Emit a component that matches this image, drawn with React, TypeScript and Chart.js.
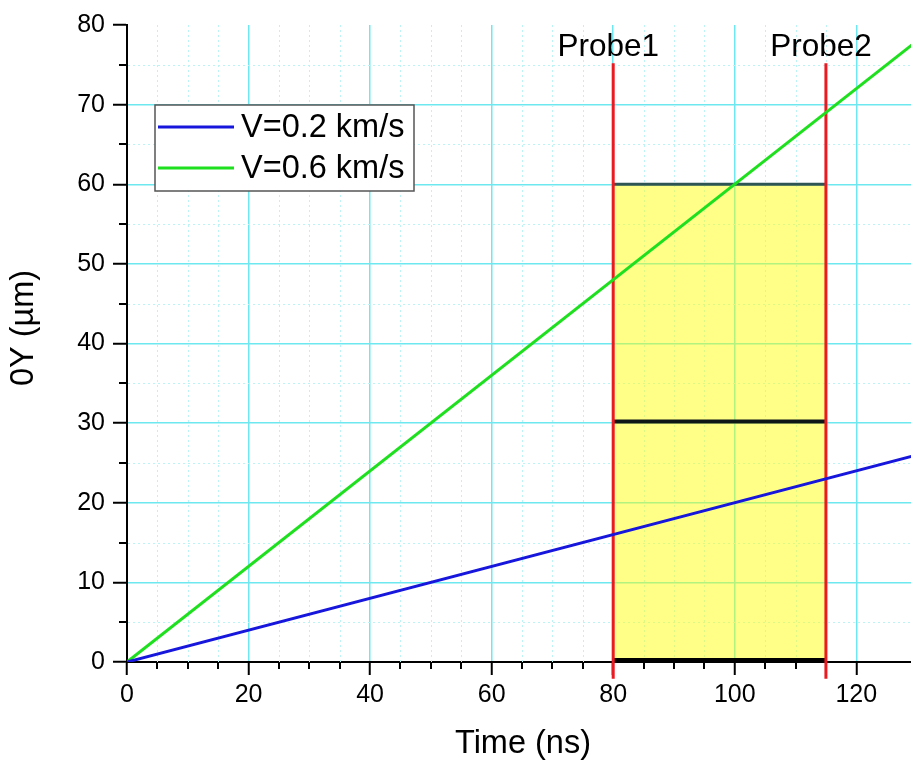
import React, { useEffect, useRef } from 'react';
import { Chart, registerables } from 'chart.js';

Chart.register(...registerables);

// ---- data ----
const TIME_NS = [0, 130];
const Y_SLOW = [0, 26];
const Y_FAST = [0, 78];
const SERIES_LABELS = ['V=0.2 km/s', 'V=0.6 km/s'];
const SERIES_COLORS = ['#1616dc', '#1ee01e'];
const PROBE_X = [80, 115];
const PROBE_LABELS = ['Probe1', 'Probe2'];
const PROBE_Y_RANGE = [-2.1, 75.2];
const ZONE_X = [80, 115];
const ZONE_TOP = 60;
const ZONE_MID = 30.2;
const ZONE_BOTTOM = 0.25;
const X_MIN = 0;
const X_MAX = 129;
const X_MAJOR = 20;
const X_MINOR = 5;
const Y_MIN = 0;
const Y_MAX = 80;
const Y_MAJOR = 10;
const Y_MINOR = 5;
const X_TITLE = 'Time (ns)';
const Y_TITLE = '0Y (µm)';

const FONT = '"Liberation Sans", Arial, sans-serif';
const MAJOR_GRID = 'rgb(110, 232, 240)';
const MINOR_GRID = 'rgb(188, 243, 247)';
const NONE = 'rgba(0,0,0,0)';

const isMult = (v: number, s: number) => Math.abs(v / s - Math.round(v / s)) < 1e-6;

const decorPlugin = {
  id: 'decor',
  beforeDatasetsDraw(chart: any) {
    const { ctx, chartArea: a, scales } = chart;
    const x = scales.x;
    const y = scales.y;
    ctx.save();
    // minor dotted grid
    ctx.strokeStyle = MINOR_GRID;
    ctx.lineWidth = 1;
    ctx.setLineDash([2, 3]);
    x.ticks.forEach((t: any) => {
      if (isMult(t.value, X_MAJOR)) return;
      const px = Math.round(x.getPixelForValue(t.value)) + 0.5;
      ctx.beginPath();
      ctx.moveTo(px, a.top);
      ctx.lineTo(px, a.bottom);
      ctx.stroke();
    });
    y.ticks.forEach((t: any) => {
      if (isMult(t.value, Y_MAJOR)) return;
      const py = Math.round(y.getPixelForValue(t.value)) + 0.5;
      ctx.beginPath();
      ctx.moveTo(a.left + 1, py);
      ctx.lineTo(a.right, py);
      ctx.stroke();
    });
    ctx.setLineDash([]);
    // minor ticks
    ctx.strokeStyle = '#000';
    ctx.lineWidth = 2;
    x.ticks.forEach((t: any) => {
      if (isMult(t.value, X_MAJOR)) return;
      const px = Math.round(x.getPixelForValue(t.value));
      ctx.beginPath();
      ctx.moveTo(px, a.bottom);
      ctx.lineTo(px, a.bottom + 7);
      ctx.stroke();
    });
    y.ticks.forEach((t: any) => {
      if (isMult(t.value, Y_MAJOR)) return;
      const py = Math.round(y.getPixelForValue(t.value));
      ctx.beginPath();
      ctx.moveTo(a.left - 8, py);
      ctx.lineTo(a.left, py);
      ctx.stroke();
    });
    ctx.restore();
  },
  afterDraw(chart: any) {
    const { ctx, chartArea: a, scales } = chart;
    const x = scales.x;
    const y = scales.y;
    ctx.save();
    // probe labels
    ctx.fillStyle = '#000';
    ctx.font = `31.5px ${FONT}`;
    ctx.textAlign = 'center';
    ctx.textBaseline = 'alphabetic';
    PROBE_X.forEach((pv, i) => {
      ctx.fillText(PROBE_LABELS[i], x.getPixelForValue(pv) - 5, y.getPixelForValue(PROBE_Y_RANGE[1]) - 7);
    });
    // axis titles
    ctx.font = `32.5px ${FONT}`;
    ctx.textBaseline = 'middle';
    ctx.fillText(X_TITLE, (a.left + a.right) / 2 + 4, 744);
    ctx.save();
    ctx.translate(24, 328);
    ctx.rotate(-Math.PI / 2);
    ctx.fillText(Y_TITLE, 0, 0);
    ctx.restore();
    // legend
    const lx = 155, ly = 105, lw = 259, lh = 86;
    ctx.fillStyle = '#fff';
    ctx.fillRect(lx, ly, lw, lh);
    ctx.strokeStyle = '#555';
    ctx.lineWidth = 1.5;
    ctx.strokeRect(lx, ly, lw, lh);
    ctx.font = `32.5px ${FONT}`;
    ctx.textAlign = 'left';
    for (let i = 0; i < 2; i++) {
      const ds = chart.data.datasets[i];
      const ry = ly + 22 + i * 41;
      ctx.strokeStyle = ds.borderColor;
      ctx.lineWidth = 3;
      ctx.beginPath();
      ctx.moveTo(lx + 3, ry);
      ctx.lineTo(lx + 79, ry);
      ctx.stroke();
      ctx.fillStyle = '#000';
      ctx.fillText(ds.label, lx + 86, ry + 1);
    }
    ctx.restore();
  },
};

export default function App() {
  const ref = useRef<HTMLCanvasElement>(null);
  useEffect(() => {
    if (!ref.current) return;
    const pts = (xs: number[], ys: number[]) => xs.map((v, i) => ({ x: v, y: ys[i] }));
    const chart = new Chart(ref.current, {
      type: 'line',
      data: {
        datasets: [
          { label: SERIES_LABELS[0], data: pts(TIME_NS, Y_SLOW), borderColor: SERIES_COLORS[0], borderWidth: 3, pointRadius: 0 },
          { label: SERIES_LABELS[1], data: pts(TIME_NS, Y_FAST), borderColor: SERIES_COLORS[1], borderWidth: 3, pointRadius: 0 },
          { label: PROBE_LABELS[0], data: pts([PROBE_X[0], PROBE_X[0]], PROBE_Y_RANGE), borderColor: '#ea1a22', borderWidth: 3, pointRadius: 0, clip: false },
          { label: PROBE_LABELS[1], data: pts([PROBE_X[1], PROBE_X[1]], PROBE_Y_RANGE), borderColor: '#ea1a22', borderWidth: 3, pointRadius: 0, clip: false },
          { label: 'mid', data: pts(ZONE_X, [ZONE_MID, ZONE_MID]), borderColor: '#0e1616', borderWidth: 4, pointRadius: 0 },
          { label: 'bottom', data: pts(ZONE_X, [ZONE_BOTTOM, ZONE_BOTTOM]), borderColor: '#000', borderWidth: 4, pointRadius: 0 },
          { label: 'zone', data: pts(ZONE_X, [ZONE_TOP, ZONE_TOP]), borderColor: '#2f5454', borderWidth: 3, pointRadius: 0, fill: 'origin', backgroundColor: 'rgba(255,255,0,0.47)' },
        ],
      },
      options: {
        animation: false,
        responsive: false,
        devicePixelRatio: 1,
        events: [],
        layout: { padding: { top: 25, left: 0, right: 0, bottom: 0 } },
        plugins: { legend: { display: false }, tooltip: { enabled: false } },
        scales: {
          x: {
            type: 'linear',
            min: X_MIN,
            max: X_MAX,
            afterFit: (s: any) => { s.height = 98; },
            afterBuildTicks: (s: any) => { s.ticks = s.ticks.filter((t: any) => isMult(t.value, X_MINOR)); },
            ticks: {
              stepSize: X_MINOR,
              autoSkip: false,
              maxRotation: 0,
              padding: 5,
              color: '#000',
              font: { family: FONT, size: 25 },
              callback: (v: any) => (isMult(v, X_MAJOR) ? String(v) : ''),
            },
            grid: {
              color: (c: any) => (c.tick && isMult(c.tick.value, X_MAJOR) && c.tick.value !== X_MIN ? MAJOR_GRID : NONE),
              lineWidth: 1.5,
              tickLength: 13,
              tickWidth: 2,
              tickColor: (c: any) => (c.tick && isMult(c.tick.value, X_MAJOR) ? '#000' : NONE),
            },
            border: { color: '#000', width: 2 },
          },
          y: {
            type: 'linear',
            min: Y_MIN,
            max: Y_MAX,
            afterFit: (s: any) => { s.width = 127; },
            ticks: {
              stepSize: Y_MINOR,
              autoSkip: false,
              padding: 8,
              color: '#000',
              font: { family: FONT, size: 25 },
              callback: (v: any) => (isMult(v, Y_MAJOR) ? String(v) : ''),
            },
            grid: {
              color: (c: any) => (c.tick && isMult(c.tick.value, Y_MAJOR) && c.tick.value !== Y_MIN && c.tick.value !== Y_MAX ? MAJOR_GRID : NONE),
              lineWidth: 1.5,
              tickLength: 14,
              tickWidth: 2,
              tickColor: (c: any) => (c.tick && isMult(c.tick.value, Y_MAJOR) ? '#000' : NONE),
            },
            border: { color: '#000', width: 2 },
          },
        },
      },
      plugins: [decorPlugin],
    } as any);
    return () => chart.destroy();
  }, []);
  return (
    <div style={{ position: 'absolute', left: 0, top: 0, width: 911, height: 760, background: '#fff' }}>
      <canvas ref={ref} width={911} height={760} />
    </div>
  );
}
